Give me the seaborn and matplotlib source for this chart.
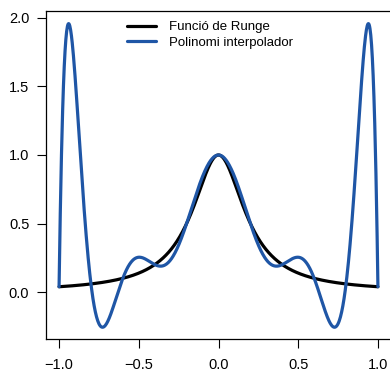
import numpy as np
import pandas as pd
import matplotlib
matplotlib.use("Agg")
import matplotlib.pyplot as plt
import seaborn as sns

sns.set_theme(style="ticks")
plt.rcParams["font.family"] = ["Liberation Sans", "DejaVu Sans"]

# ── Données : noeuds d'interpolation (equiespaiats) ───────────────────────────
x_nodes = [-1.0, -0.8, -0.6, -0.4, -0.2, 0.0, 0.2, 0.4, 0.6, 0.8, 1.0]
y_nodes = [0.0385, 0.0588, 0.1, 0.2, 0.5, 1.0, 0.5, 0.2, 0.1, 0.0588, 0.0385]
runge_coef = 25
labels = ["Funció de Runge", "Polinomi interpolador"]
x_ticks = [-1.0, -0.5, 0.0, 0.5, 1.0]
y_ticks = [0.0, 0.5, 1.0, 1.5, 2.0]

xs = np.linspace(-1, 1, 801)
coefs = np.polyfit(x_nodes, y_nodes, len(x_nodes) - 1)
df = pd.DataFrame({
    "x": np.concatenate([xs, xs]),
    "y": np.concatenate([1 / (1 + runge_coef * xs**2), np.polyval(coefs, xs)]),
    "serie": [labels[0]] * len(xs) + [labels[1]] * len(xs),
})

fig = plt.figure(figsize=(3.9, 3.72), dpi=100)
ax = fig.add_axes([46 / 390, 33 / 372, 345 / 390, 328 / 372])
sns.lineplot(data=df, x="x", y="y", hue="serie", palette=["black", "#1f56a6"],
             linewidth=2.3, ax=ax, sort=False, estimator=None)

ax.set_xlim(-1.082, 1.082)
ax.set_ylim(-0.343, 2.051)
ax.set_xticks(x_ticks)
ax.set_yticks(y_ticks)
ax.set_xticklabels([f"{t:.1f}".replace("-", "\u2212") for t in x_ticks])
ax.set_yticklabels([f"{t:.1f}" for t in y_ticks])
ax.set_xlabel(""); ax.set_ylabel("")
ax.tick_params(direction="out", length=6.5, width=0.8, labelsize=10.5,
               color="black", labelcolor="black")
ax.tick_params(axis="x", pad=7.5)
ax.tick_params(axis="y", pad=5.5)
for s in ax.spines.values():
    s.set_linewidth(0.9)
    s.set_color("black")

leg = ax.legend(frameon=False, loc="upper left", bbox_to_anchor=(127 / 390, 1 - 21 / 372),
                bbox_transform=fig.transFigure, fontsize=9.5, handlelength=2.2,
                handletextpad=1.0, labelspacing=0.25, borderpad=0, borderaxespad=0)
for t in leg.get_texts():
    t.set_color("black")

plt.savefig("out.png", dpi=100)
plt.close()
